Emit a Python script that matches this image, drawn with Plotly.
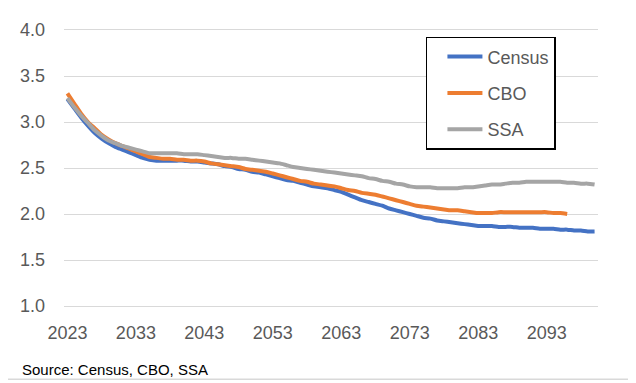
import plotly.graph_objects as go

years = list(range(2023, 2101))

census = [3.25, 3.15, 3.05, 2.96, 2.88, 2.82, 2.77, 2.73, 2.70, 2.67,
          2.64, 2.61, 2.59, 2.58, 2.58, 2.58, 2.58, 2.58, 2.57, 2.57,
          2.56, 2.55, 2.54, 2.52, 2.51, 2.49, 2.48, 2.46, 2.45, 2.43,
          2.41, 2.39, 2.37, 2.36, 2.34, 2.32, 2.30, 2.29, 2.28, 2.26,
          2.24, 2.21, 2.18, 2.15, 2.13, 2.11, 2.09, 2.06, 2.04, 2.02,
          2.00, 1.98, 1.96, 1.95, 1.93, 1.92, 1.91, 1.90, 1.89, 1.88,
          1.87, 1.87, 1.87, 1.86, 1.86, 1.86, 1.85, 1.85, 1.85, 1.84,
          1.84, 1.84, 1.83, 1.83, 1.82, 1.82, 1.81, 1.81]

cbo = [3.31, 3.20, 3.09, 3.00, 2.93, 2.86, 2.81, 2.77, 2.74, 2.71,
       2.68, 2.65, 2.62, 2.61, 2.60, 2.60, 2.59, 2.59, 2.58, 2.58,
       2.57, 2.55, 2.54, 2.53, 2.52, 2.51, 2.49, 2.48, 2.47, 2.46,
       2.44, 2.42, 2.40, 2.38, 2.36, 2.35, 2.33, 2.32, 2.31, 2.30,
       2.28, 2.26, 2.25, 2.23, 2.22, 2.21, 2.19, 2.17, 2.15, 2.13,
       2.11, 2.09, 2.08, 2.07, 2.06, 2.05, 2.04, 2.04, 2.03, 2.02,
       2.01, 2.01, 2.01, 2.02, 2.02, 2.02, 2.02, 2.02, 2.02, 2.02,
       2.02, 2.01, 2.01, 2.00]

ssa = [3.26, 3.16, 3.07, 2.99, 2.91, 2.85, 2.80, 2.77, 2.74, 2.72,
       2.70, 2.68, 2.66, 2.66, 2.66, 2.66, 2.66, 2.65, 2.65, 2.65,
       2.64, 2.63, 2.62, 2.61, 2.61, 2.60, 2.60, 2.59, 2.58, 2.57,
       2.56, 2.55, 2.53, 2.51, 2.50, 2.49, 2.48, 2.47, 2.46, 2.45,
       2.44, 2.43, 2.42, 2.41, 2.39, 2.38, 2.36, 2.35, 2.33, 2.32,
       2.30, 2.29, 2.29, 2.29, 2.28, 2.28, 2.28, 2.28, 2.29, 2.29,
       2.30, 2.31, 2.32, 2.32, 2.33, 2.34, 2.34, 2.35, 2.35, 2.35,
       2.35, 2.35, 2.35, 2.34, 2.34, 2.33, 2.33, 2.32]

tick_years = [2023, 2033, 2043, 2053, 2063, 2073, 2083, 2093]
y_ticks = [1.0, 1.5, 2.0, 2.5, 3.0, 3.5, 4.0]

series = [("Census", census, "#4472C4"),
          ("CBO", cbo, "#ED7D31"),
          ("SSA", ssa, "#A5A5A5")]

FONT = "Liberation Sans"
TXT = "#595959"

fig = go.Figure()
for name, vals, col in series:
    fig.add_trace(go.Scatter(
        x=years[:len(vals)], y=vals, name=name, mode="lines",
        legendgroup=name,
        line=dict(color=col, width=4, shape="spline", smoothing=0.6),
    ))

# the page body adds an 8px margin, so the figure is sized to fit inside it
OFF = 8
W, H = 636 - OFF, 383 - OFF
L, R, T, B = 58 - OFF, 38, 22 - OFF, 77
pw, ph = W - L - R, H - T - B

fig.update_layout(
    width=W, height=H,
    margin=dict(l=L, r=R, t=T, b=B),
    paper_bgcolor="white", plot_bgcolor="white",
    font=dict(family=FONT, color=TXT, size=18),
    showlegend=True,
    legend=dict(
        x=(424 - 58) / pw, y=(306 - 29) / ph,
        xanchor="left", yanchor="top",
        bordercolor="black", borderwidth=1.5,
        bgcolor="white",
        font=dict(family=FONT, size=18, color=TXT),
        traceorder="grouped", tracegroupgap=10,
        itemwidth=35, indentation=15,
    ),
    xaxis=dict(
        range=[2022.5, 2100.5], tickmode="array", tickvals=tick_years,
        ticktext=[str(t) for t in tick_years],
        showgrid=False, zeroline=False, showline=True, mirror=True,
        linecolor="#d9d9d9", linewidth=1, ticks="",
        ticklabelstandoff=10,
        tickfont=dict(family=FONT, size=18, color=TXT),
    ),
    yaxis=dict(
        range=[1.0, 4.0], tickmode="array", tickvals=y_ticks,
        ticktext=[f"{v:.1f}" for v in y_ticks],
        showgrid=True, gridcolor="#d9d9d9", gridwidth=1,
        zeroline=False, showline=False, ticks="",
        ticklabelstandoff=18,
        tickfont=dict(family=FONT, size=18, color=TXT),
    ),
)

fig.add_annotation(
    text="Source: Census, CBO, SSA", xref="paper", yref="paper",
    x=-(58 - 14) / pw, y=1 - (371 - 22) / ph,
    xanchor="left", yanchor="middle", showarrow=False,
    font=dict(family=FONT, size=15, color="black"),
)

# light chart-area border (right and bottom edges fall inside the figure)
fig.add_shape(
    type="rect", xref="paper", yref="paper",
    x0=-(L + 10) / pw, x1=1 + (R - 2.5) / pw,
    y0=-(B - 1.5) / ph, y1=1 + (T + 10) / ph,
    line=dict(color="#d9d9d9", width=1.5), layer="above",
)

fig.write_html("out.html")
